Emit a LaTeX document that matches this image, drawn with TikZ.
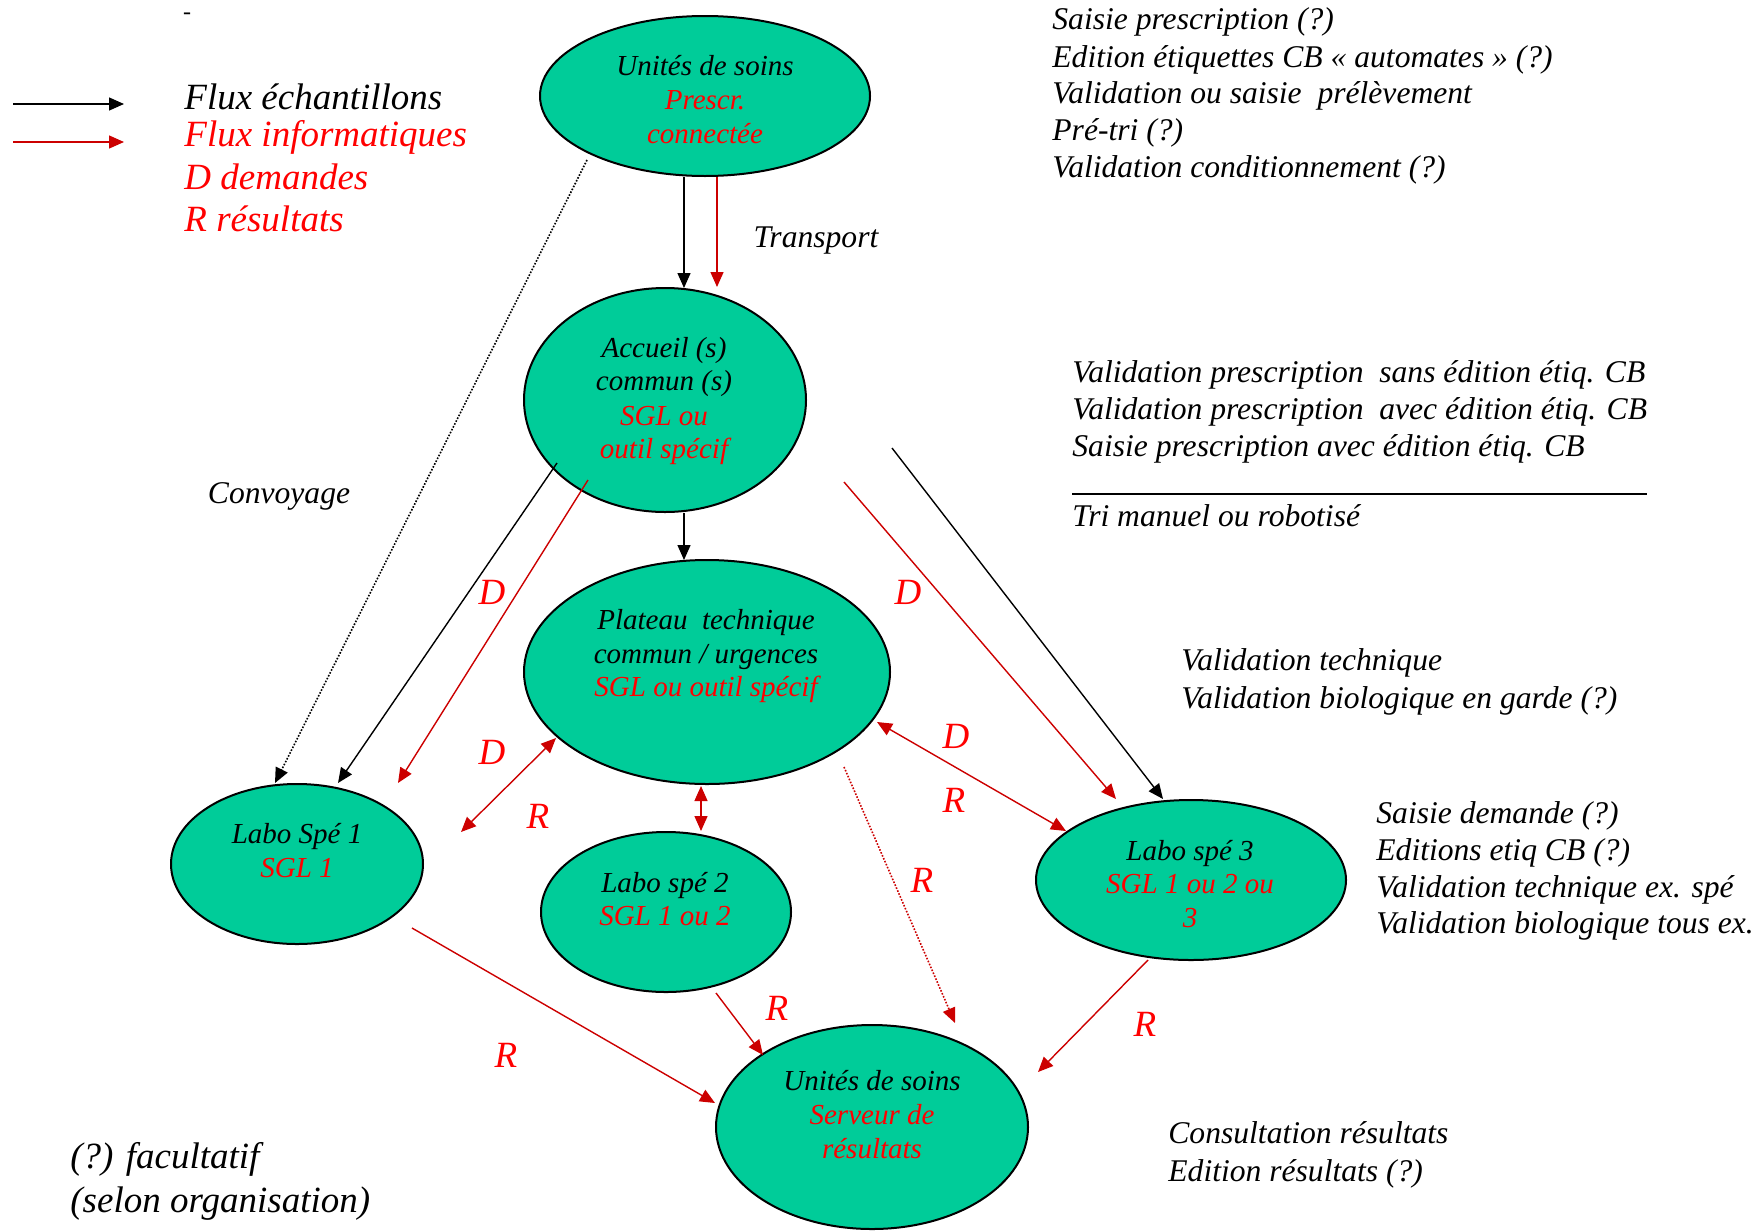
\documentclass[tikz,border=0pt]{standalone}
\usepackage{fontspec}
\setmainfont{Liberation Serif}
\usetikzlibrary{shapes.geometric,arrows.meta}
\definecolor{lgreen}{RGB}{0,204,153}
\definecolor{tred}{RGB}{255,0,0}
\definecolor{ared}{RGB}{204,0,0}
\begin{document}
\begin{tikzpicture}[x=0.5pt,y=-0.5pt,
  ell/.style={ellipse,draw=black,line width=1pt,fill=lgreen,inner sep=0pt},
  etx/.style={font=\fontsize{14.5}{17}\selectfont\itshape,inner sep=0pt,text height=1.0em,text depth=0pt},
  ann/.style={font=\fontsize{15.8}{19}\selectfont\itshape,inner sep=0pt,anchor=west,text height=1.0em,text depth=0pt},
  mid/.style={font=\fontsize{15.8}{19}\selectfont\itshape,inner sep=0pt,text height=1.0em,text depth=0pt},
  big/.style={font=\fontsize{18.5}{22}\selectfont\itshape,inner sep=0pt,anchor=west,text height=0.96em,text depth=0pt},
  lbl/.style={font=\fontsize{18.5}{22}\selectfont\itshape,text=tred,inner sep=0pt},
  blk/.style={draw=black,line width=0.7pt,-{Triangle[length=7.5pt,width=6.5pt]}},
  rd/.style={draw=ared,line width=0.7pt,-{Triangle[length=7.5pt,width=6.5pt]}},
  rdd/.style={draw=ared,line width=0.7pt,{Triangle[length=7.5pt,width=6.5pt]}-{Triangle[length=7.5pt,width=6.5pt]}},
  dots/.style={dash pattern=on 0.8pt off 0.8pt,line width=0.8pt}
]
\useasboundingbox (0,0) rectangle (1764,1231);

% ellipses
\node[ell,minimum width=165pt,minimum height=80pt] (T) at (705,96) {};
\node[ell,minimum width=141pt,minimum height=112pt] (A) at (665,400) {};
\node[ell,minimum width=183pt,minimum height=112pt] (P) at (707,672) {};
\node[ell,minimum width=126pt,minimum height=80pt] (L1) at (297,864) {};
\node[ell,minimum width=125pt,minimum height=80pt] (L2) at (666,912) {};
\node[ell,minimum width=155pt,minimum height=80pt] (L3) at (1191,880) {};
\node[ell,minimum width=156pt,minimum height=102pt] (B) at (872,1127) {};

% ellipse texts
\node[etx] (T1) at (705,65) {Unités de soins};
\node[etx,text=tred] (T2) at (705,99) {Prescr.};
\node[etx,text=tred] (T3) at (705,133) {connectée};

\node[etx] (A1) at (664,347) {Accueil (s)};
\node[etx] (A2) at (664,380) {commun (s)};
\node[etx,text=tred] (A3) at (664,415) {SGL ou};
\node[etx,text=tred] (A4) at (664,448) {outil spécif};

\node[etx] (P1) at (706,619) {Plateau\ \ technique};
\node[etx] (P2) at (706,653) {commun / urgences};
\node[etx,text=tred] (P3) at (706,686) {SGL ou outil spécif};

\node[etx] (L1a) at (297,833) {Labo Spé 1};
\node[etx,text=tred] (L1b) at (297,867) {SGL 1};

\node[etx] (L2a) at (665,882) {Labo spé 2};
\node[etx,text=tred] (L2b) at (665,915) {SGL 1 ou 2};

\node[etx] (L3a) at (1190,850) {Labo spé 3};
\node[etx,text=tred] (L3b) at (1190,883) {SGL 1 ou 2 ou};
\node[etx,text=tred] (L3c) at (1190,917) {3};

\node[etx] (B1) at (872,1080) {Unités de soins};
\node[etx,text=tred] (B2) at (872,1114) {Serveur de};
\node[etx,text=tred] (B3) at (872,1148) {résultats};

% legend
\node[font=\fontsize{12}{14}\selectfont,inner sep=0pt] (hy) at (187,16) {-};
\coordinate (k1) at (13,104);
\coordinate (k2) at (124,104);
\coordinate (k3) at (13,142);
\coordinate (k4) at (124,142);
\draw[blk] (k1) -- (k2);
\draw[rd] (k3) -- (k4);
\node[big] (g1) at (184,100) {Flux échantillons};
\node[big,text=tred] (g2) at (184,137) {Flux informatiques};
\node[big,text=tred] (g3) at (184,180) {D demandes};
\node[big,text=tred] (g4) at (184,222) {R résultats};

\node[big] (f1) at (70,1159) {(?) facultatif};
\node[big] (f2) at (70,1203) {(selon organisation)};

\node[mid] (conv) at (279,493) {Convoyage};
\node[mid] (trans) at (816,237) {Transport};

% annotations
\node[ann] (n1) at (1052,19) {Saisie prescription (?)};
\node[ann] (n2) at (1052,57) {Edition étiquettes CB « automates » (?)};
\node[ann] (n3) at (1052,93) {Validation ou saisie\ \ prélèvement};
\node[ann] (n4) at (1052,130) {Pré-tri (?)};
\node[ann] (n5) at (1052,167) {Validation conditionnement (?)};

\node[ann] (m1) at (1072,372) {Validation prescription\ \ sans édition étiq. CB};
\node[ann] (m2) at (1072,409) {Validation prescription\ \ avec édition étiq. CB};
\node[ann] (m3) at (1072,446) {Saisie prescription avec édition étiq. CB};
\coordinate (r1) at (1072,494);
\coordinate (r2) at (1647,494);
\draw[line width=0.75pt] (r1) -- (r2);
\node[ann] (m4) at (1072,516) {Tri manuel ou robotisé};

\node[ann] (v1) at (1181,660) {Validation technique};
\node[ann] (v2) at (1181,698) {Validation biologique en garde (?)};

\node[ann] (s1) at (1376,813) {Saisie demande (?)};
\node[ann] (s2) at (1376,850) {Editions etiq CB (?)};
\node[ann] (s3) at (1376,887) {Validation technique ex. spé};
\node[ann] (s4) at (1376,923) {Validation biologique tous ex.};

\node[ann] (c1) at (1168,1133) {Consultation résultats};
\node[ann] (c2) at (1168,1171) {Edition résultats (?)};

% connectors
\draw[blk] ([shift={(-21,81)}]T.center) -- ([shift={(19,-112)}]A.center);
\draw[rd] ([shift={(12,81)}]T.center) -- ([shift={(52,-113)}]A.center);
\draw[blk,dots] ([shift={(-118,64)}]T.center) -- ([shift={(-22,-81)}]L1.center);
\draw[blk] ([shift={(-108,63)}]A.center) -- ([shift={(41,-81)}]L1.center);
\draw[rd] ([shift={(-77,80)}]A.center) -- ([shift={(101,-81)}]L1.center);
\draw[blk] ([shift={(19,113)}]A.center) -- ([shift={(-23,-112)}]P.center);
\draw[rd] ([shift={(179,82)}]A.center) -- ([shift={(-75,-81)}]L3.center);
\draw[blk] ([shift={(227,48)}]A.center) -- ([shift={(-28,-81)}]L3.center);
\draw[rdd] ([shift={(164,-32)}]L1.center) -- ([shift={(-151,66)}]P.center);
\draw[rdd] ([shift={(-6,114)}]P.center) -- ([shift={(35,-81)}]L2.center);
\draw[rdd] ([shift={(170,50)}]P.center) -- ([shift={(-125,-49)}]L3.center);
\draw[rd,dots] ([shift={(137,95)}]P.center) -- ([shift={(83,-104)}]B.center);
\draw[rd] ([shift={(115,64)}]L1.center) -- ([shift={(-157,-24)}]B.center);
\draw[rd] ([shift={(50,81)}]L2.center) -- ([shift={(-109,-72)}]B.center);
\draw[rd] ([shift={(-43,80)}]L3.center) -- ([shift={(166,-55)}]B.center);

% labels
\node[lbl] (d1) at (492,592) {D};
\node[lbl] (d2) at (908,592) {D};
\node[lbl] (d3) at (492,752) {D};
\node[lbl] (e1) at (538,816) {R};
\node[lbl] (d4) at (956,736) {D};
\node[lbl] (e2) at (954,800) {R};
\node[lbl] (e3) at (922,880) {R};
\node[lbl] (e4) at (777,1008) {R};
\node[lbl] (e5) at (1145,1024) {R};
\node[lbl] (e6) at (506,1055) {R};
\end{tikzpicture}
\end{document}
